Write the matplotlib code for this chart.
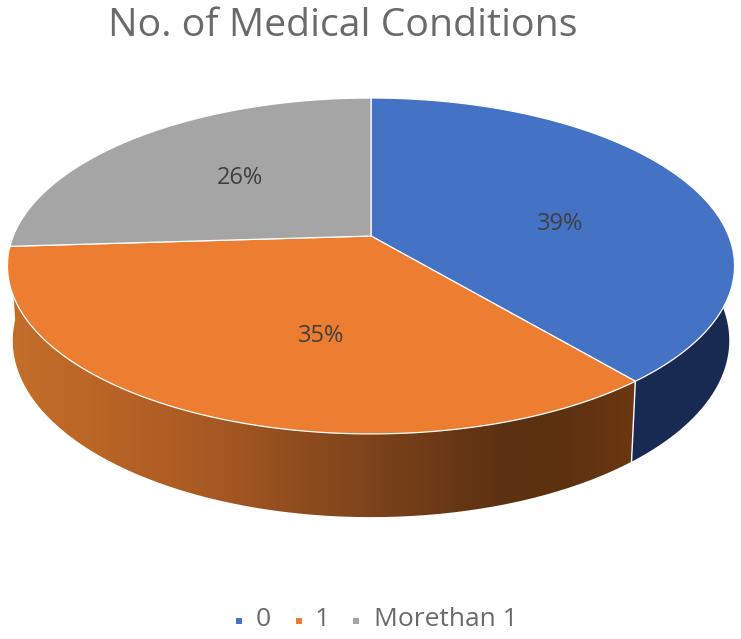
import numpy as np
import matplotlib
matplotlib.use("Agg")
import matplotlib.pyplot as plt
from matplotlib.patches import PathPatch
from matplotlib.path import Path

title = "No. of Medical Conditions"
categories = ["0", "1", "Morethan 1"]
shares = [39, 35, 26]
colors = ["#4472C4", "#ED7D31", "#A5A5A5"]
label_xy = [(560, 224), (321, 336), (240, 178)]
text_color = "#6a6a6a"

# side shading, left to right
side_x = [10, 100, 200, 350, 500, 560, 640]
side_r = [196, 186, 170, 130, 92, 92, 108]
side_g = [110, 100, 90, 70, 49, 49, 56]
side_b = [42, 38, 35, 28, 18, 16, 16]
blue_side = "#182A52"

# pie centre and perspective of the top and bottom discs, in pixels
cx, cy = 371, 236
a, b, k = 162.6, 357.7, 0.1784
low_cy, low_a, low_b = 309, 171, 352.5


def project(deg, y0=cy, ya=a, xb=b):
    t = np.radians(deg)
    w = 1 + k * np.sin(t)
    return cx + xb * np.cos(t) / w, y0 - ya * np.sin(t) / w


def side_poly(t1, t2):
    t = np.linspace(t1, t2, 200)
    x1, y1 = project(t)
    x2, y2 = project(t[::-1], low_cy, low_a, low_b)
    return np.r_[x1, x2], np.r_[y1, y2]


fig = plt.figure(figsize=(7.41, 6.39), dpi=100)
ax = fig.add_axes([0, 0, 1, 1])

# clockwise from 12 o'clock
edges = 90 - np.cumsum([0] + shares) * 3.6

# orange side with gradient
sx, sy = side_poly(edges[2], edges[1])
xs = np.arange(0, 741)
grad = np.dstack([
    np.interp(xs, side_x, side_r),
    np.interp(xs, side_x, side_g),
    np.interp(xs, side_x, side_b),
]).astype(np.uint8)
im = ax.imshow(grad, extent=(0, 741, 520, 100), aspect="auto", zorder=1)
clip = PathPatch(Path(np.c_[sx, sy]), transform=ax.transData, fc="none", ec="none")
ax.add_patch(clip)
im.set_clip_path(clip)

# blue side
sx, sy = side_poly(edges[1], 5)
ax.fill(sx, sy, color=blue_side, lw=0, zorder=1)

# seam between the two sides
x1, y1 = project(edges[1])
x2, y2 = project(edges[1], low_cy, low_a, low_b)
ax.plot([x1, x2], [y1, y2], color="white", lw=1, zorder=2)

# top of the pie
for i in range(3):
    t = np.linspace(edges[i], edges[i + 1], 200)
    x, y = project(t)
    ax.fill(np.r_[cx, x], np.r_[cy, y], facecolor=colors[i], edgecolor="white",
            lw=0.9, joinstyle="round", zorder=3)

for s, (x, y) in zip(shares, label_xy):
    ax.text(x, y, f"{s}%", ha="center", va="center", color="#404040",
            fontsize=17, family="Open Sans", zorder=4)

ax.text(343, 26, title, ha="center", va="center", color=text_color,
        fontsize=28.3, family="Open Sans")

# legend
for c, name, mx, tx in zip(colors, categories, [239, 299, 356], [256, 315, 374]):
    ax.plot(mx, 621, "s", color=c, ms=4.6, mew=0)
    ax.text(tx, 619, name, ha="left", va="center", color=text_color,
            fontsize=19, family="Open Sans")

ax.set_xlim(0, 741)
ax.set_ylim(639, 0)
ax.axis("off")
fig.savefig("out.png", dpi=100)
